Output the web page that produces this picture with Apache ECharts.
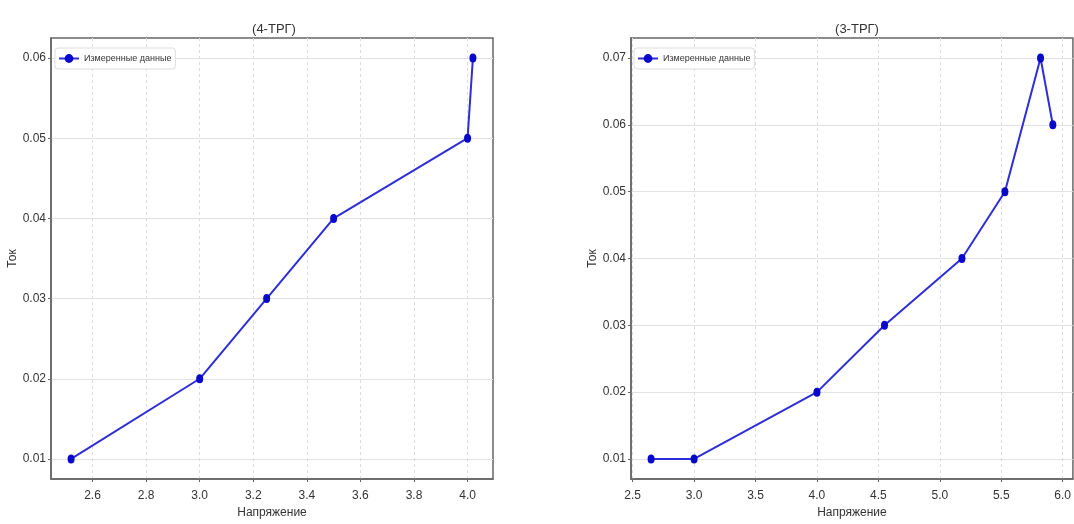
<!DOCTYPE html>
<html><head><meta charset="utf-8">
<script src="https://cdn.jsdelivr.net/npm/echarts@6/dist/echarts.min.js"></script>
<style>html,body{margin:0;padding:0;background:#fff}#c{width:1074px;height:524px}</style>
</head><body><div id="c"></div>
<script>
// Left chart (4-ТРГ)
const titleLeft = '(4-ТРГ)';
const voltageLeft = [2.52, 3.0, 3.25, 3.5, 4.0, 4.02];
const currentLeft = [0.01, 0.02, 0.03, 0.04, 0.05, 0.06];
const xTicksLeft = [2.6, 2.8, 3.0, 3.2, 3.4, 3.6, 3.8, 4.0];
const yTicksLeft = [0.01, 0.02, 0.03, 0.04, 0.05, 0.06];
// Right chart (3-ТРГ)
const titleRight = '(3-ТРГ)';
const voltageRight = [2.65, 3.0, 4.0, 4.55, 5.18, 5.53, 5.82, 5.92];
const currentRight = [0.01, 0.01, 0.02, 0.03, 0.04, 0.05, 0.07, 0.06];
const xTicksRight = [2.5, 3.0, 3.5, 4.0, 4.5, 5.0, 5.5, 6.0];
const yTicksRight = [0.01, 0.02, 0.03, 0.04, 0.05, 0.06, 0.07];
const seriesName = 'Измеренные данные';
const xName = 'Напряжение';
const yName = 'Ток';

const FONT = '"Liberation Sans", "Roboto", sans-serif';
const lineColor = '#2e2ed8';
const markColor = '#0808cc';

function xAxis(gi, ticks, min, max, dec) {
  return {
    type: 'value', gridIndex: gi, min: min, max: max,
    name: xName, nameLocation: 'middle', nameGap: 28,
    nameTextStyle: {fontFamily: FONT, fontSize: 12, color: '#333'},
    axisLine: {show: true, onZero: false, lineStyle: {color: '#666', width: 1.5}},
    axisTick: {show: true, length: 3, customValues: ticks, lineStyle: {color: '#666'}},
    axisLabel: {customValues: ticks, fontFamily: FONT, fontSize: 12, color: '#333', margin: 11,
      formatter: v => v.toFixed(dec)},
    splitLine: {show: true, customValues: ticks, lineStyle: {color: '#dcdcdc', type: [3, 3], width: 1}}
  };
}
function yAxis(gi, ticks, min, max) {
  return {
    type: 'value', gridIndex: gi, min: min, max: max,
    name: yName, nameLocation: 'middle', nameGap: 28, nameRotate: 90,
    nameTextStyle: {fontFamily: FONT, fontSize: 12, color: '#333'},
    axisLine: {show: true, onZero: false, lineStyle: {color: '#666', width: 1.5}},
    axisTick: {show: true, length: 3, customValues: ticks, lineStyle: {color: '#666'}},
    axisLabel: {customValues: ticks, fontFamily: FONT, fontSize: 12, color: '#333', margin: 5,
      formatter: v => v.toFixed(2)},
    splitLine: {show: true, customValues: ticks, lineStyle: {color: '#e2e2e2', type: 'solid', width: 1}}
  };
}
function series(i, xs, ys) {
  return {
    type: 'line', name: seriesName, xAxisIndex: i, yAxisIndex: i,
    data: xs.map((x, k) => [x, ys[k]]),
    symbol: 'circle', symbolSize: [7, 9],
    lineStyle: {color: lineColor, width: 2},
    itemStyle: {color: markColor},
    animation: false
  };
}
function legend(left, top) {
  return {
    data: [seriesName], left: left, top: top, orient: 'vertical',
    backgroundColor: '#fff', borderColor: '#dddddd', borderWidth: 1, borderRadius: 3,
    padding: [6, 4, 6, 3], itemWidth: 20, itemHeight: 11, itemGap: 4, selectedMode: false,
    textStyle: {fontFamily: FONT, fontSize: 9, color: '#333', padding: [0, 0, 0, 0]}
  };
}

const chart = echarts.init(document.getElementById('c'), null, {renderer: 'canvas'});
chart.setOption({
  backgroundColor: '#fff',
  animation: false,
  title: [
    {text: titleLeft, left: 269, top: 18, textAlign: 'center',
     textStyle: {fontFamily: FONT, fontSize: 13, fontWeight: 'normal', color: '#333'}},
    {text: titleRight, left: 852, top: 18, textAlign: 'center',
     textStyle: {fontFamily: FONT, fontSize: 13, fontWeight: 'normal', color: '#333'}}
  ],
  legend: [legend(55, 48), legend(634, 48)],
  grid: [
    {left: 51, top: 38, width: 442, height: 444, show: true, borderColor: '#666', borderWidth: 1.5},
    {left: 631, top: 38, width: 445, height: 443, show: true, borderColor: '#666', borderWidth: 1.5}
  ],
  xAxis: [xAxis(0, xTicksLeft, 2.445, 4.095, 1), xAxis(1, xTicksRight, 2.4865, 6.0835, 1)],
  yAxis: [yAxis(0, yTicksLeft, 0.0075, 0.0625), yAxis(1, yTicksRight, 0.007, 0.073)],
  series: [series(0, voltageLeft, currentLeft), series(1, voltageRight, currentRight)]
});
</script></body></html>
